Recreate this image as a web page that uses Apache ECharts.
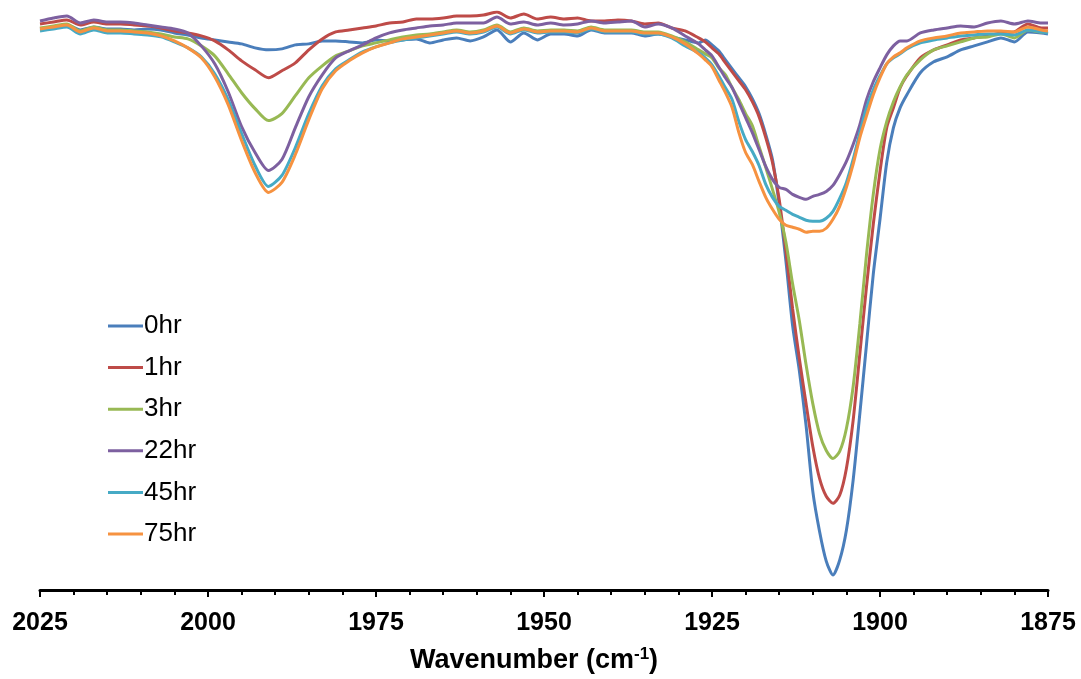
<!DOCTYPE html>
<html>
<head>
<meta charset="utf-8">
<script src="https://cdn.jsdelivr.net/npm/echarts@6/dist/echarts.min.js"></script>
<style>html,body{margin:0;padding:0;background:#fff;}#c{width:1081px;height:679px;}</style>
</head>
<body>
<div id="c"></div>
<script>
// Wavenumber grid (cm-1)
const wavenumbers = [
2025,2023,2021,2019,2017,2015,2013,2011,2009,2007,2005,2003,2001,1999,1997,1995,1993,1991,1989,1987,
1985,1983,1981,1979,1977,1975,1973,1971,1969,1967,1965,1963,1961,1959,1957,1955,1953,1951,1949,1947,
1945,1943,1941,1939,1937,1935,1933,1931,1929,1927,
1926,1925,1924,1923,1922,1921,1920,1919,1918,1917,1916,1915,1914,1913,1912,1911,1910,1909,1908,1907,
1906,1905,1904,1903,1902,1901,1900,1899,1898,1897,1896,
1894,1892,1890,1888,1886,1884,1882,1880,1878,1876,1875];

// Transmittance (arbitrary units)
const t0hr = [
56.3,56.5,56.7,56.2,56.5,56.3,56.3,56.2,56.3,56.2,55.9,55.7,55.4,55.2,55.0,54.8,54.4,54.2,54.3,54.7,
54.8,55.1,55.1,55.0,54.9,55.2,55.1,55.2,55.3,54.9,55.2,55.4,55.1,55.5,56.2,55.0,55.9,55.2,55.8,55.8,
55.6,56.2,55.9,55.9,55.9,55.6,55.8,55.5,55.2,54.9,
55.2,54.7,54.1,53.2,52.3,51.4,50.5,49.3,47.8,45.7,43.2,38.7,33.0,26.5,22.0,16.5,9.9,5.9,2.9,1.5,
3.0,6.0,11.0,17.7,24.7,31.7,37.2,42.9,46.4,48.4,49.7,
51.9,53.0,53.5,54.2,54.6,55.0,55.4,55.0,56.0,55.9,55.8];
const t1hr = [
56.8,57.0,57.2,56.7,57.0,56.8,56.8,56.7,56.6,56.4,56.1,55.9,55.6,55.1,54.2,53.1,52.2,51.4,52.1,52.9,
54.2,55.3,56.0,56.2,56.4,56.6,56.9,57.0,57.3,57.3,57.4,57.6,57.6,57.7,58.0,57.4,57.8,57.3,57.5,57.3,
57.4,57.1,57.1,57.2,57.1,56.8,56.9,56.4,56.1,55.4,
55.0,54.4,53.8,52.9,52.0,51.1,50.2,49.0,47.5,45.4,42.9,39.2,34.0,28.2,23.2,18.7,14.4,11.2,9.4,8.7,
9.5,12.2,17.0,23.7,30.5,36.7,42.0,46.4,48.4,50.4,51.6,
53.4,54.2,54.7,55.2,55.4,55.6,55.9,56.0,56.8,56.4,56.4];
const t3hr = [
56.4,56.6,56.8,56.1,56.5,56.2,56.2,56.1,56.0,55.8,55.5,55.3,54.6,53.6,51.8,49.9,48.3,47.1,47.8,49.6,
51.4,52.6,53.6,54.1,54.6,54.9,55.2,55.5,55.7,55.8,56.0,56.2,56.0,56.2,56.7,56.0,56.4,56.1,56.2,56.2,
56.1,56.5,56.2,56.2,56.2,56.0,56.0,55.6,55.0,54.2,
53.8,53.4,52.4,51.7,50.4,49.2,47.8,46.6,44.5,42.4,40.2,37.9,34.9,30.7,27.0,22.6,18.7,15.7,14.0,13.2,
13.9,16.2,20.4,26.7,33.7,39.7,44.2,47.0,49.0,50.5,51.7,
53.2,54.2,54.6,55.0,55.4,55.5,55.8,55.4,56.2,56.0,56.0];
const t22hr = [
57.1,57.4,57.6,56.9,57.2,57.0,57.0,56.9,56.7,56.5,56.3,55.9,54.6,52.8,50.0,46.5,43.9,42.1,43.2,46.4,
49.5,51.7,53.4,54.1,54.7,55.4,55.9,56.2,56.4,56.6,56.7,56.9,56.9,56.9,57.5,56.8,57.0,56.7,56.9,56.7,
56.8,57.1,56.9,57.0,57.1,56.5,56.8,56.4,55.6,54.8,
54.2,53.6,52.5,51.4,50.4,48.9,47.4,45.9,44.2,42.5,41.2,40.4,40.2,39.7,39.4,39.2,39.5,39.7,40.0,40.6,
41.7,43.0,44.7,46.7,49.2,51.0,52.4,53.7,54.6,55.1,55.1,
55.9,56.2,56.4,56.6,56.5,56.9,57.1,56.8,57.1,56.9,56.9];
const t45hr = [
56.1,56.3,56.5,55.8,56.2,55.9,55.9,55.8,55.7,55.5,55.0,54.4,53.5,51.8,49.2,45.8,42.6,40.5,41.6,44.4,
47.8,50.6,52.3,53.2,54.0,54.5,54.9,55.2,55.4,55.6,55.8,56.0,55.8,56.0,56.5,55.8,56.2,55.9,56.0,56.0,
55.9,56.3,56.0,56.0,56.0,55.8,55.8,55.4,54.6,53.9,
53.4,52.7,51.6,50.4,49.2,47.0,45.2,44.0,42.6,40.7,39.4,38.5,38.1,37.7,37.4,37.1,37.0,37.0,37.3,38.0,
39.3,40.9,43.2,45.9,48.4,50.2,51.6,52.8,53.4,53.8,54.3,
54.9,55.2,55.4,55.6,55.7,55.8,55.8,55.7,56.2,56.0,55.9];
const t75hr = [
56.3,56.5,56.7,56.0,56.4,56.1,56.1,56.0,55.9,55.6,55.1,54.4,53.4,51.5,48.7,45.1,41.9,39.9,40.9,43.7,
47.2,50.3,52.1,53.1,53.9,54.5,54.9,55.3,55.5,55.7,55.9,56.1,55.9,56.1,56.6,55.9,56.3,56.0,56.1,56.1,
56.0,56.4,56.1,56.1,56.1,55.9,55.9,55.5,54.8,53.8,
53.2,52.5,51.2,49.9,48.4,45.9,43.9,42.7,41.0,39.4,38.2,37.2,36.6,36.4,36.2,35.9,36.0,36.0,36.3,37.2,
38.5,40.4,42.7,45.4,47.6,49.7,51.4,52.8,53.5,53.9,54.4,
55.1,55.4,55.6,55.9,56.0,56.1,56.1,56.0,56.5,56.2,56.1];

const seriesNames = ['0hr','1hr','3hr','22hr','45hr','75hr'];
const seriesValues = [t0hr, t1hr, t3hr, t22hr, t45hr, t75hr];
const colors = ['#4A7EBB','#BE4B48','#98B954','#7D60A0','#46AAC5','#F69240'];
const xTicks = [1875, 2025, 25];

const FONT = 'Liberation Sans, Arial, sans-serif';
const chart = echarts.init(document.getElementById('c'), null, {renderer:'canvas'});
chart.setOption({
  animation: false,
  backgroundColor: '#fff',
  color: colors,
  grid: {left: 40, right: 33, top: 12, bottom: 87, containLabel: false},
  legend: {
    orient: 'vertical', left: 108, top: 313, padding: 0,
    icon: 'rect', itemWidth: 35, itemHeight: 3, itemGap: 15.6,
    textStyle: {fontFamily: FONT, fontSize: 26, color: '#000', lineHeight: 22, padding: [0,0,0,-4]},
    data: seriesNames
  },
  xAxis: {
    type: 'value', inverse: true,
    min: xTicks[0], max: xTicks[1], interval: xTicks[2],
    axisLine: {show: true, onZero: false, lineStyle: {color: '#000', width: 3}},
    axisTick: {show: true, inside: false, length: 7, lineStyle: {color: '#000', width: 2}},
    minorTick: {show: true, splitNumber: 5, length: 5, lineStyle: {color: '#000', width: 2}},
    splitLine: {show: false},
    axisLabel: {margin: 21, fontFamily: FONT, fontWeight: 'bold', fontSize: 25, color: '#000',
      formatter: v => String(v)},
    name: 'Wavenumber (cm{sup|-1})',
    nameLocation: 'middle', nameGap: 56,
    nameTextStyle: {
      fontFamily: FONT, fontWeight: 'bold', fontSize: 27, color: '#000', padding: [0, 20, 0, 0],
      rich: {sup: {fontFamily: FONT, fontWeight: 'bold', fontSize: 17, color: '#000', padding: [0,0,12,0]}}
    }
  },
  yAxis: {
    type: 'value', min: 0, max: 58, show: false, splitLine: {show: false}
  },
  series: seriesNames.map((n, k) => ({
    name: n, type: 'line', showSymbol: false, symbol: 'none', smooth: 0.25,
    lineStyle: {width: 3, color: colors[k]},
    itemStyle: {color: colors[k]},
    data: wavenumbers.map((w, i) => [w, seriesValues[k][i]])
  }))
});
</script>
</body>
</html>
